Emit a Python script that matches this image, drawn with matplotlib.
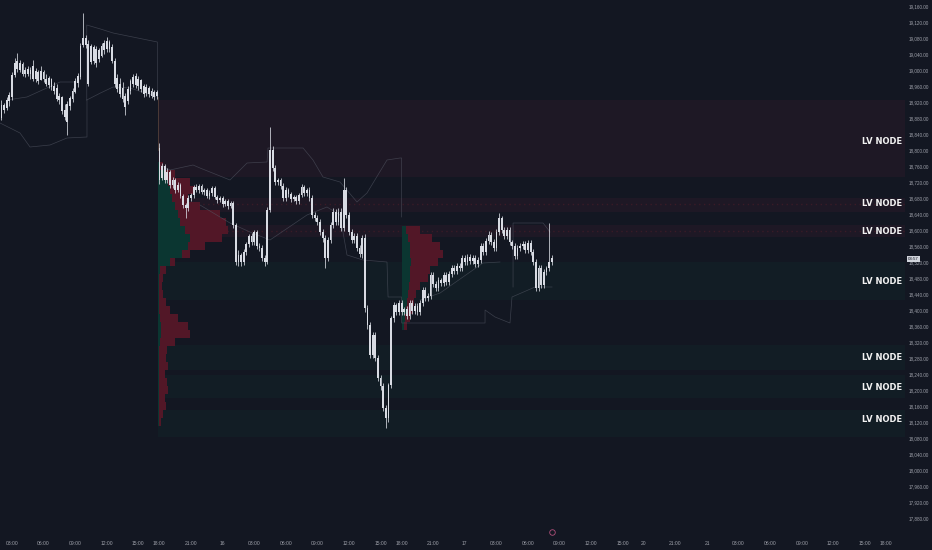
import matplotlib
matplotlib.use("Agg")
import matplotlib.pyplot as plt
import numpy as np

plt.rcParams['font.family'] = ['Liberation Sans', 'DejaVu Sans']

BG = '#131722'
CANDLE = '#d8dbe3'
TICK_COL = '#9ea1aa'
LINE_COL = '#555966'

# ---------------- time axis (trading hours since 03:00 on the 15th, 17:00-18:00 pause removed)
tick_hours = [0, 3, 6, 9, 12, 14, 17, 20, 23, 26, 29, 32, 35, 37, 40, 43, 46, 49, 52, 55, 58, 60,
              63, 66, 69, 72, 75, 78, 81, 83]
tick_labels = ["03:00", "06:00", "09:00", "12:00", "15:00", "18:00", "21:00", "16", "03:00", "06:00",
               "09:00", "12:00", "15:00", "18:00", "21:00", "17", "03:00", "06:00", "09:00", "12:00",
               "15:00", "20", "21:00", "21", "03:00", "06:00", "09:00", "12:00", "15:00", "18:00"]
price_ticks = list(range(17880, 19161, 40))

BAR_STEP = 0.25  # 15-minute candles

# ---------------- session A (starts 02:00 on the 15th)
a_start = -1.0
a_open = [18880, 18912.5, 18905, 18922.5, 18932.5, 18987.5, 19022.5, 19000, 19015, 18990,
          19002.5, 18990, 19010, 18977.5, 18995, 18975, 18995, 18977.5, 18962.5, 18977.5,
          18960, 18955, 18925, 18932.5, 18900, 18870, 18910, 18927.5, 18945, 18967.5,
          18982.5, 19062.5, 19080, 19065, 19020, 19057.5, 19017.5, 19050, 19035, 19050,
          19052.5, 19070, 19057.5, 19022.5, 18980, 18965, 18955, 18935, 18922.5, 18947.5,
          18965, 18985, 18960, 18975, 18960, 18942.5, 18955, 18947.5, 18932.5, 18945]
a_close = [18912.5, 18900, 18925, 18937.5, 18987.5, 19017.5, 19002.5, 19017.5, 18990, 19000,
           18990, 19000, 18977.5, 18997.5, 18972.5, 18997.5, 18977.5, 18965, 18980, 18957.5,
           18947.5, 18927.5, 18935, 18897.5, 18882.5, 18915, 18930, 18947.5, 18972.5, 18985,
           19060, 19080, 19062.5, 18965, 19060, 19022.5, 19052.5, 19027.5, 19060, 19067.5,
           19072.5, 19052.5, 19022.5, 18965, 18952.5, 18940, 18927.5, 18907.5, 18952.5, 18972.5,
           18982.5, 18962.5, 18977.5, 18952.5, 18940, 18957.5, 18940, 18935, 18945, 18935]
a_high = [18925, 18917.5, 18932.5, 18945, 18995, 19030, 19042.5, 19025, 19020, 19007.5,
          19010, 19007.5, 19025, 19005, 19000, 19010, 19000, 18990, 18985, 18980,
          18970, 18965, 18942.5, 18935, 18915, 18922.5, 18935, 18955, 18980, 18992.5,
          19067.5, 19142.5, 19087.5, 19075, 19065, 19062.5, 19060, 19055, 19067.5, 19075,
          19082.5, 19075, 19065, 19030, 18990, 18980, 18970, 18942.5, 18960, 18977.5,
          18990, 18992.5, 18985, 18977.5, 18965, 18965, 18960, 18955, 18950, 18950]
a_low = [18875, 18892.5, 18900, 18910, 18925, 18982.5, 18995, 18995, 18985, 18982.5,
         18985, 18977.5, 18972.5, 18970, 18965, 18975, 18970, 18960, 18955, 18950,
         18940, 18922.5, 18915, 18890, 18875, 18837.5, 18900, 18920, 18942.5, 18957.5,
         18977.5, 19057.5, 19055, 18960, 19015, 19015, 19007.5, 19020, 19032.5, 19040,
         19045, 19045, 19017.5, 18957.5, 18945, 18932.5, 18920, 18887.5, 18915, 18940,
         18957.5, 18955, 18950, 18945, 18932.5, 18935, 18932.5, 18930, 18925, 18927.5]

# ---------------- session B (18:00 on the 15th)
b_start = 14.0
b_open = [18805, 18730, 18760, 18725, 18745, 18712.5, 18725, 18700, 18712.5, 18685,
          18662.5, 18655, 18680, 18687.5, 18707.5, 18700, 18710, 18695, 18700, 18685,
          18692.5, 18705, 18682.5, 18675, 18680, 18665, 18672.5, 18660, 18667.5, 18612.5,
          18520, 18537.5, 18520, 18545, 18565, 18585, 18570, 18595, 18560, 18555,
          18530, 18520, 18650, 18800, 18755, 18720, 18725, 18710, 18680, 18700,
          18690, 18677.5, 18682.5, 18672.5, 18687.5, 18707.5, 18692.5, 18700, 18680, 18637.5,
          18630, 18620, 18595, 18580, 18530, 18575, 18612.5, 18645, 18620, 18645,
          18605, 18700, 18637.5, 18595, 18575, 18585, 18555, 18540, 18580, 18405,
          18362.5, 18287.5, 18337.5, 18280, 18230, 18210, 18155, 18130, 18212.5, 18380,
          18412.5, 18395]
b_close = [18725, 18760, 18725, 18745, 18712.5, 18725, 18700, 18712.5, 18685, 18662.5,
           18655, 18680, 18687.5, 18707.5, 18700, 18710, 18695, 18700, 18685, 18692.5,
           18705, 18682.5, 18675, 18680, 18665, 18672.5, 18660, 18667.5, 18612.5, 18520,
           18537.5, 18520, 18545, 18565, 18585, 18570, 18595, 18560, 18555, 18530,
           18520, 18650, 18800, 18755, 18720, 18725, 18710, 18680, 18700, 18690,
           18677.5, 18682.5, 18672.5, 18687.5, 18707.5, 18692.5, 18700, 18680, 18637.5, 18630,
           18620, 18595, 18580, 18530, 18575, 18612.5, 18645, 18620, 18645, 18605,
           18700, 18637.5, 18595, 18575, 18585, 18555, 18540, 18580, 18405, 18362.5,
           18287.5, 18337.5, 18280, 18230, 18210, 18155, 18130, 18212.5, 18380, 18412.5,
           18395, 18417.5]
b_high = [18817.5, 18767.5, 18765, 18755, 18750, 18732.5, 18730, 18720, 18717.5, 18690,
          18667.5, 18687.5, 18692.5, 18712.5, 18715, 18715, 18715, 18705, 18705, 18700,
          18710, 18710, 18687.5, 18685, 18685, 18677.5, 18677.5, 18672.5, 18672.5, 18617.5,
          18550, 18542.5, 18552.5, 18570, 18590, 18592.5, 18600, 18600, 18567.5, 18562.5,
          18537.5, 18657.5, 18857.5, 18810, 18762.5, 18730, 18730, 18717.5, 18707.5, 18705,
          18695, 18687.5, 18687.5, 18692.5, 18715, 18712.5, 18705, 18707.5, 18687.5, 18645,
          18637.5, 18627.5, 18602.5, 18587.5, 18582.5, 18620, 18655, 18652.5, 18655, 18655,
          18730, 18707.5, 18645, 18602.5, 18592.5, 18592.5, 18562.5, 18587.5, 18590, 18412.5,
          18370, 18345, 18345, 18287.5, 18237.5, 18217.5, 18162.5, 18217.5, 18385, 18420,
          18417.5, 18425]
b_low = [18715, 18725, 18717.5, 18717.5, 18705, 18705, 18692.5, 18695, 18680, 18655,
         18630, 18647.5, 18672.5, 18680, 18695, 18692.5, 18690, 18687.5, 18680, 18677.5,
         18685, 18677.5, 18667.5, 18670, 18657.5, 18660, 18652.5, 18655, 18605, 18512.5,
         18510, 18510, 18512.5, 18537.5, 18557.5, 18562.5, 18562.5, 18552.5, 18547.5, 18522.5,
         18510, 18515, 18645, 18747.5, 18712.5, 18712.5, 18702.5, 18672.5, 18672.5, 18682.5,
         18670, 18672.5, 18665, 18665, 18682.5, 18685, 18685, 18672.5, 18630, 18622.5,
         18612.5, 18587.5, 18570, 18505, 18522.5, 18567.5, 18605, 18612.5, 18612.5, 18597.5,
         18597.5, 18630, 18587.5, 18567.5, 18567.5, 18547.5, 18532.5, 18530, 18395, 18352.5,
         18280, 18280, 18272.5, 18222.5, 18200, 18147.5, 18105, 18120, 18205, 18370,
         18387.5, 18387.5]

# ---------------- session C (18:00 on the 16th)
c_start = 37.0
c_open = [18417.5, 18395, 18402.5, 18385, 18417.5, 18397.5, 18410, 18395, 18417.5, 18450,
          18430, 18435, 18487.5, 18465, 18455, 18475, 18467.5, 18487.5, 18470, 18490,
          18505, 18497.5, 18510, 18505, 18530, 18520, 18532.5, 18522.5, 18530, 18515,
          18525, 18560, 18545, 18572.5, 18587.5, 18570, 18555, 18595, 18630, 18600,
          18585, 18600, 18570, 18560, 18535, 18555, 18560, 18565, 18550, 18567.5,
          18545, 18520, 18455, 18505, 18462.5, 18495, 18505, 18520]
c_close = [18395, 18402.5, 18385, 18417.5, 18397.5, 18410, 18395, 18417.5, 18450, 18430,
           18435, 18487.5, 18465, 18455, 18475, 18467.5, 18487.5, 18470, 18490, 18505,
           18497.5, 18510, 18505, 18530, 18520, 18532.5, 18522.5, 18530, 18515, 18525,
           18560, 18545, 18572.5, 18587.5, 18570, 18555, 18595, 18630, 18600, 18585,
           18600, 18570, 18560, 18535, 18555, 18560, 18565, 18550, 18567.5, 18545,
           18520, 18455, 18505, 18462.5, 18495, 18505, 18520, 18530]
c_high = [18425, 18407.5, 18410, 18425, 18425, 18417.5, 18417.5, 18425, 18457.5, 18457.5,
          18442.5, 18495, 18495, 18472.5, 18482.5, 18480, 18495, 18495, 18497.5, 18512.5,
          18512.5, 18517.5, 18517.5, 18537.5, 18537.5, 18540, 18540, 18537.5, 18537.5, 18532.5,
          18567.5, 18567.5, 18580, 18597.5, 18595, 18577.5, 18602.5, 18642.5, 18635, 18607.5,
          18607.5, 18607.5, 18575, 18567.5, 18562.5, 18567.5, 18572.5, 18572.5, 18575, 18575,
          18552.5, 18527.5, 18512.5, 18512.5, 18502.5, 18510, 18617.5, 18537.5]
c_low = [18387.5, 18387.5, 18377.5, 18377.5, 18390, 18390, 18387.5, 18387.5, 18410, 18422.5,
         18422.5, 18427.5, 18457.5, 18447.5, 18447.5, 18460, 18460, 18462.5, 18462.5, 18482.5,
         18490, 18490, 18497.5, 18497.5, 18512.5, 18512.5, 18515, 18515, 18507.5, 18507.5,
         18517.5, 18537.5, 18537.5, 18565, 18562.5, 18547.5, 18547.5, 18587.5, 18592.5, 18577.5,
         18577.5, 18562.5, 18552.5, 18527.5, 18527.5, 18547.5, 18552.5, 18542.5, 18542.5, 18537.5,
         18512.5, 18447.5, 18447.5, 18455, 18455, 18487.5, 18497.5, 18512.5]

# ---------------- volume profiles (buy / sell volume per 20-point row, arbitrary units)
vp_b_levels = [18760, 18740, 18720, 18700, 18680, 18660, 18640, 18620, 18600, 18580, 18560,
               18540, 18520, 18500, 18480, 18460, 18440, 18420, 18400, 18380, 18360, 18340,
               18320, 18300, 18280, 18260, 18240, 18220, 18200, 18180, 18160, 18140, 18120]
vp_b_buy = [2, 7, 10, 12, 14, 17, 20, 22, 27, 32, 30, 24, 12, 2, 0.5, 0.5, 1, 1, 1, 2, 3, 3, 2,
            1, 1, 1, 1, 1, 1, 1, 1, 1, 1]
vp_b_sell = [3, 10, 22, 25, 16, 25, 42, 46, 43, 32, 17, 8, 5, 6, 4.5, 3.5, 4, 7, 11, 18, 27, 29,
             15, 8, 7, 9, 6, 8, 9, 6, 7, 4, 2]
vp_c_levels = [18600, 18580, 18560, 18540, 18520, 18500, 18480, 18460, 18440, 18420, 18400,
               18380, 18360]
vp_c_buy = [4, 6, 8, 8.5, 9.5, 8.5, 8.5, 7.5, 6.5, 5.5, 4.5, 3.5, 2.5]
vp_c_sell = [14, 24, 30, 33, 27, 20, 18, 11, 8, 7, 7, 5, 3]
VP_SCALE = 0.095  # hours of width per volume unit

# ---------------- low-volume node zones
red_zones = [(18732.5, 18925), (18645, 18680), (18582.5, 18612.5)]
green_zones = [(18425, 18520), (18250, 18312.5), (18180, 18237.5), (18082.5, 18150)]
lv_node_prices = [18822.5, 18665, 18597.5, 18472.5, 18280, 18205, 18125]

# ---------------- developing value-area outlines
va_lines = [
    ([7.1, 7.1, 8.4, 9.6, 13.8, 13.8], [18925, 19112.5, 19102.5, 19092.5, 19070, 18925]),
    ([7.1, 8.4, 9.6, 11.2, 13.8], [18925, 18942.5, 18957.5, 18955, 18932.5]),
    ([-1.14, 0.76, 1.71, 3.61, 5.22, 7.12, 7.12], [18867.5, 18842.5, 18807.5, 18812.5, 18830, 18832.5, 18925]),
    ([-0.47, 1.42, 4.56, 6.17], [18925, 18932.5, 18970, 18970]),
    ([14.06, 15.0, 17.19, 17.85, 20.7, 22.32, 24.22, 24.31, 27.64, 28.58, 29.53, 31.15, 32.76,
      33.71, 35.61, 36.85, 37.0, 37.0],
     [18762.5, 18750, 18762.5, 18755, 18725, 18767.5, 18770, 18805, 18805, 18775, 18732.5, 18720,
      18670, 18692.5, 18775, 18780, 18780, 18632.5]),
    ([17.85, 20.70, 22.60, 24.50, 28.01, 29.91, 31.15, 31.81, 33.33, 35.61, 35.71, 36.85, 37.0,
      37.0, 38.94, 44.92, 44.92, 45.87, 47.29, 47.48, 49.67, 51.28],
     [18662.5, 18617.5, 18595, 18575, 18637.5, 18657.5, 18637.5, 18537.5, 18525, 18520, 18432.5,
      18432.5, 18432.5, 18367.5, 18367.5, 18367.5, 18400, 18382.5, 18367.5, 18432.5, 18457.5,
      18457.5]),
    ([47.58, 47.58, 50.43, 51.09], [18457.5, 18617.5, 18617.5, 18595]),
    ([38.75, 40.65, 44.73, 46.34], [18425, 18442.5, 18517.5, 18520]),
]

X_LO, X_HI = -1.14, 84.8
Y_LO, Y_HI = 17837.5, 19175

fig = plt.figure(figsize=(9.32, 5.5), dpi=100, facecolor=BG)
ax = fig.add_axes([0, 15 / 550, 905 / 932, 535 / 550])
ax.set_facecolor(BG)
ax.set_xlim(X_LO, X_HI)
ax.set_ylim(Y_LO, Y_HI)

# zones
zone_x0 = (b_start - 0.1 - X_LO) / (X_HI - X_LO)
for lo, hi in red_zones:
    ax.axhspan(lo, hi, xmin=zone_x0, xmax=1, color='#9b2545', alpha=0.085, lw=0, zorder=1)
for lo, hi in green_zones:
    ax.axhspan(lo, hi, xmin=zone_x0, xmax=1, color='#10704f', alpha=0.075, lw=0, zorder=1)
for p in lv_node_prices[1:3]:
    ax.plot([b_start, X_HI], [p, p], color='#3a1b27', lw=1.0, ls=(0, (1, 2.5)), zorder=1.5)

# volume profiles
for start, levels, buy, sell in [(b_start - 0.12, vp_b_levels, vp_b_buy, vp_b_sell),
                                 (c_start, vp_c_levels, vp_c_buy, vp_c_sell)]:
    buy_w = np.array(buy) * VP_SCALE
    sell_w = np.array(sell) * VP_SCALE
    ax.barh(levels, buy_w, height=19, left=start, color='#0b3631', lw=0, zorder=2)
    ax.barh(levels, sell_w, height=19, left=start + buy_w, color='#521727', lw=0, zorder=2)

# value-area outlines
for t, p in va_lines:
    ax.plot(t, p, color=LINE_COL, lw=0.5, alpha=0.6, zorder=3)
ax.plot([13.85, 13.85], [18800, 18932.5], color='#6e5444', lw=0.5, alpha=0.8, zorder=3)

# candles
for start, o, h, l, c in [(a_start, a_open, a_high, a_low, a_close),
                          (b_start, b_open, b_high, b_low, b_close),
                          (c_start, c_open, c_high, c_low, c_close)]:
    o = np.array(o); c = np.array(c)
    t = start + BAR_STEP * np.arange(len(o))
    ax.vlines(t, l, h, color=CANDLE, lw=0.55, zorder=5)
    ax.bar(t, np.maximum(np.abs(c - o), 1.5), width=0.17, bottom=np.minimum(o, c),
           color=CANDLE, lw=0, zorder=6)

# LV NODE labels
for p in lv_node_prices:
    ax.text(0.997, p, 'LV NODE', transform=ax.get_yaxis_transform(), ha='right', va='center',
            fontsize=6, fontweight='bold', color='#f2f2f2',
            family=['Liberation Sans Narrow', 'DejaVu Sans'], zorder=8)

# axes styling
for s in ax.spines.values():
    s.set_visible(False)
ax.set_xticks(tick_hours)
ax.set_xticklabels(tick_labels)
ax.set_yticks(price_ticks)
ax.set_yticklabels([f"{v:,.2f}" for v in price_ticks])
ax.yaxis.tick_right()
ax.tick_params(axis='x', length=0, pad=4.5, labelsize=3.6, colors=TICK_COL)
ax.tick_params(axis='y', length=0, pad=3, labelsize=3.3, colors=TICK_COL)

# last price / countdown tag
ax.text(1.003, 18527.5, '03:57', transform=ax.get_yaxis_transform(), ha='left', va='center',
        fontsize=3.2, color='#131722', clip_on=False, zorder=9,
        bbox=dict(boxstyle='square,pad=0.25', fc='#d1d4dc', ec='none'))

# event marker on the time axis
ax.plot([51.3], [0.006], marker='o', ms=4, mfc=BG, mec='#b0507a', mew=0.6,
        transform=ax.get_xaxis_transform(), clip_on=False, zorder=9)

fig.savefig('out.png', dpi=100, facecolor=BG)
